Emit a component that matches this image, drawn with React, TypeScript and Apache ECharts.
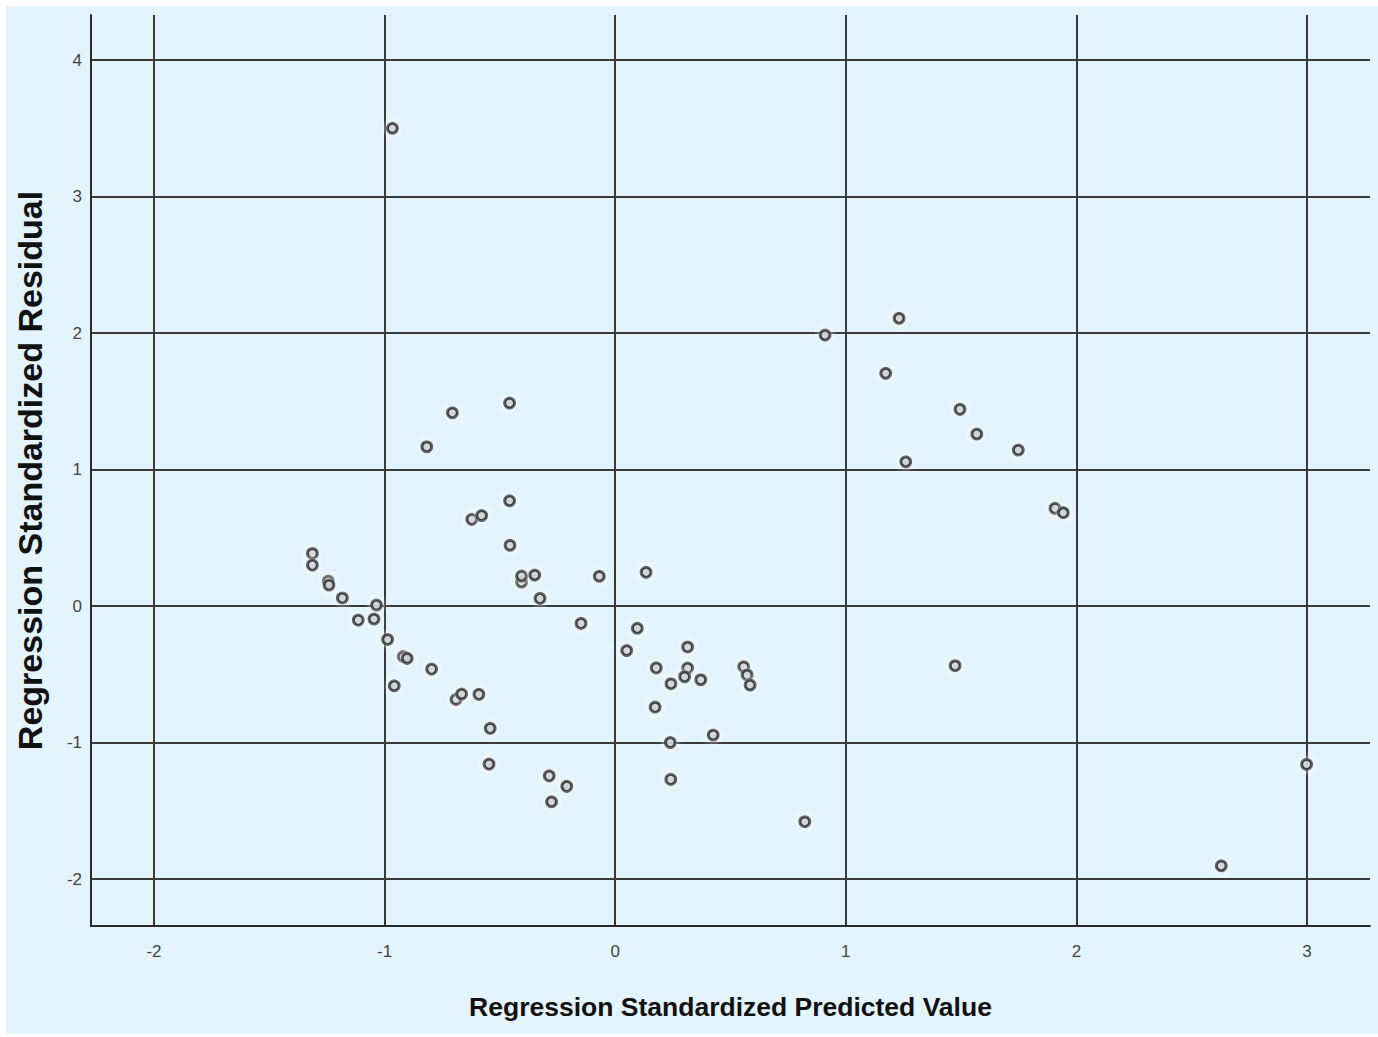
import React, { useEffect, useRef } from "react";
import * as echarts from "echarts";

// Regression Standardized Predicted Value (x) and Regression Standardized Residual (y)
const predicted: number[] = [
  -0.966, -1.313, -1.313, -1.244, -1.241, -1.183, -1.035, -1.114, -1.046, -0.987,
  -0.919, -0.902, -0.958, -0.796, -0.817, -0.706, -0.458, -0.458, -0.456, -0.622,
  -0.579, -0.406, -0.406, -0.349, -0.326, -0.690, -0.666, -0.591, -0.542, -0.547,
  -0.286, -0.210, -0.276, -0.148, -0.069, 0.134, 0.096, 0.050, 0.178, 0.173,
  0.242, 0.314, 0.314, 0.301, 0.371, 0.239, 0.241, 0.425, 0.557, 0.572,
  0.585, 0.822, 0.910, 1.231, 1.173, 1.260, 1.495, 1.568, 1.748, 1.907,
  1.943, 1.474, 2.628, 2.998,
];
const residual: number[] = [
  3.50, 0.385, 0.30, 0.183, 0.154, 0.059, 0.007, -0.103, -0.095, -0.245,
  -0.371, -0.383, -0.584, -0.462, 1.167, 1.416, 1.487, 0.771, 0.445, 0.635,
  0.663, 0.176, 0.22, 0.227, 0.056, -0.684, -0.645, -0.647, -0.896, -1.158,
  -1.244, -1.321, -1.434, -0.127, 0.218, 0.247, -0.163, -0.326, -0.453, -0.741,
  -0.569, -0.300, -0.454, -0.518, -0.540, -1.000, -1.270, -0.945, -0.445, -0.505,
  -0.579, -1.580, 1.985, 2.108, 1.705, 1.057, 1.441, 1.260, 1.143, 0.716,
  0.684, -0.437, -1.903, -1.160,
];

const xTitle = "Regression Standardized Predicted Value";
const yTitle = "Regression Standardized Residual";
const xRange = [-2.273, 3.273];
const yRange = [-2.344, 4.33];

const FONT = "'Liberation Sans', Arial, sans-serif";

const intLabel = (v: number) => {
  const r = Math.round(v);
  return Math.abs(v - r) < 1e-6 ? String(r) : "";
};

export default function App() {
  const ref = useRef<HTMLDivElement>(null);

  useEffect(() => {
    if (!ref.current) return;
    const chart = echarts.init(ref.current, undefined, { renderer: "svg" });
    const data = predicted.map((x, i) => [x, residual[i]]);
    chart.setOption({
      animation: false,
      backgroundColor: "transparent",
      textStyle: { fontFamily: FONT },
      grid: { left: 91, right: 8, top: 15, bottom: 111, containLabel: false },
      xAxis: {
        type: "value",
        min: xRange[0],
        max: xRange[1],
        splitNumber: 5,
        name: xTitle,
        nameLocation: "middle",
        nameGap: 67,
        nameTextStyle: { fontSize: 26.5, fontWeight: "bold", color: "#111", fontFamily: FONT },
        axisLine: { show: true, onZero: false, lineStyle: { color: "#2a2a2a", width: 2 } },
        axisTick: { show: false },
        axisLabel: { formatter: intLabel, fontSize: 17, color: "#444", margin: 17, fontFamily: FONT },
        splitLine: {
          show: true,
          showMinLine: false,
          showMaxLine: false,
          lineStyle: { color: "#3a3a3a", width: 2 },
        },
      },
      yAxis: {
        type: "value",
        min: yRange[0],
        max: yRange[1],
        splitNumber: 5,
        name: yTitle,
        nameLocation: "middle",
        nameGap: 44,
        nameTextStyle: { fontSize: 34, fontWeight: "bold", color: "#111", fontFamily: FONT },
        axisLine: { show: true, onZero: false, lineStyle: { color: "#2a2a2a", width: 2 } },
        axisTick: { show: false },
        axisLabel: { formatter: intLabel, fontSize: 17, color: "#444", margin: 9, fontFamily: FONT },
        splitLine: {
          show: true,
          showMinLine: false,
          showMaxLine: false,
          lineStyle: { color: "#3a3a3a", width: 2 },
        },
      },
      series: [
        {
          type: "scatter",
          data,
          symbol: "circle",
          symbolSize: 10,
          itemStyle: {
            color: "#c4ccd2",
            borderColor: "#050505",
            borderWidth: 3,
            shadowColor: "rgba(255,255,255,0.95)",
            shadowBlur: 6,
          },
          z: 3,
        },
      ],
    });
    return () => chart.dispose();
  }, []);

  return (
    <div
      style={{
        position: "fixed",
        left: 0,
        top: 0,
        width: 1378,
        height: 1037,
        background: "#ffffff",
        overflow: "hidden",
      }}
    >
      <div
        style={{
          position: "absolute",
          left: 6,
          top: 6,
          right: 0,
          bottom: 3,
          background: "#e4f4fc",
        }}
      />
      <div ref={ref} style={{ position: "absolute", left: 0, top: 0, width: 1378, height: 1037 }} />
    </div>
  );
}
